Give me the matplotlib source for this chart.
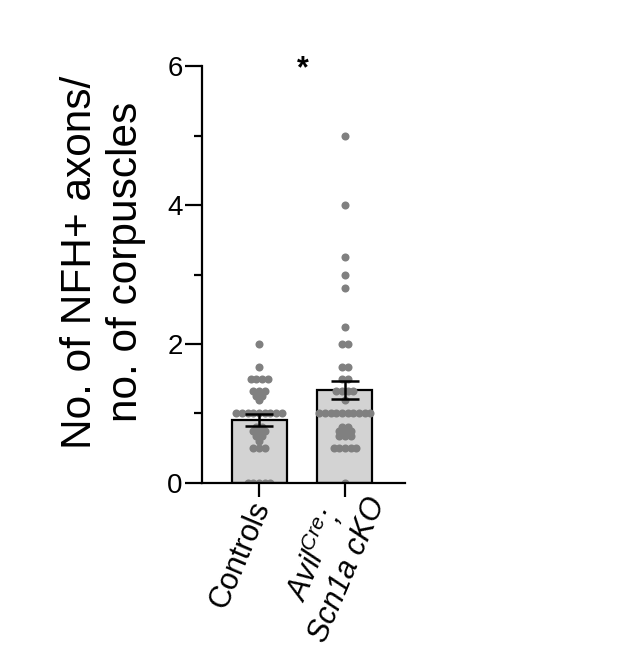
import numpy as np
import matplotlib
matplotlib.use("Agg")
import matplotlib.pyplot as plt
from matplotlib.transforms import ScaledTranslation

plt.rcParams['font.family'] = ['Liberation Sans', 'DejaVu Sans']
plt.rcParams['mathtext.fontset'] = 'custom'
plt.rcParams['mathtext.rm'] = 'Liberation Sans'
plt.rcParams['mathtext.it'] = 'Liberation Sans:italic'

# values
groups = ['Controls', 'Avil$^{Cre}$;\nScn1a cKO']
controls = [2.0, 1.67, 1.5, 1.5, 1.5, 1.5, 1.33, 1.33, 1.33, 1.25, 1.25, 1.2,
            1.0, 1.0, 1.0, 1.0, 1.0, 1.0, 1.0, 1.0, 1.0,
            0.8, 0.8, 0.75, 0.75, 0.75, 0.67, 0.67, 0.6, 0.5, 0.5, 0.5,
            0, 0, 0, 0, 0]
cko = [5.0, 4.0, 3.25, 3.0, 2.8, 2.25, 2.0, 2.0, 1.67, 1.67, 1.5, 1.5,
       1.33, 1.33, 1.33, 1.33, 1.2,
       1.0, 1.0, 1.0, 1.0, 1.0, 1.0, 1.0, 1.0, 1.0, 1.0,
       0.8, 0.8, 0.75, 0.75, 0.75, 0.67, 0.67, 0.67, 0.5, 0.5, 0.5, 0.5, 0.5,
       0]
means = [0.91, 1.34]
sems = [0.085, 0.125]
yticks = [0, 2, 4, 6]


def spread(vals, center, step):
    # lay equal values side by side, centred on the bar
    vals = np.asarray(vals, dtype=float)
    x = np.zeros_like(vals)
    for v in np.unique(vals):
        idx = np.where(vals == v)[0]
        n = len(idx)
        x[idx] = center + (np.arange(n) - (n - 1) / 2) * step
    return x


fig = plt.figure(figsize=(6.22, 6.68), dpi=100)
ax = fig.add_axes([0.325, 0.277, 0.326, 0.624])
ax.set_xlim(-0.663, 1.70)
ax.set_ylim(0, 6)

pos = np.arange(len(groups))
ax.bar(pos, means, width=0.64, color='#d3d3d3', edgecolor='black',
       linewidth=1.6, zorder=1)

step = 0.066
for p, vals in zip(pos, [controls, cko]):
    ax.scatter(spread(vals, p, step), vals, s=5.8 ** 2, color='#808080',
               linewidths=0, zorder=2)

ax.errorbar(pos, means, yerr=sems, fmt='none', ecolor='black',
            elinewidth=1.8, capsize=10, capthick=1.8, zorder=3)

ax.spines['top'].set_visible(False)
ax.spines['right'].set_visible(False)
ax.spines['left'].set_linewidth(1.6)
ax.spines['bottom'].set_linewidth(1.6)

ax.set_yticks(yticks)
ax.set_yticks([1, 3, 5], minor=True)
ax.tick_params(axis='y', which='major', length=12, width=1.6, labelsize=20, pad=2)
ax.tick_params(axis='y', which='minor', length=6, width=1.6)
ax.tick_params(axis='x', length=10, width=1.6, pad=3)
ax.set_xticks(pos)
ax.set_xticklabels(groups, fontsize=22, rotation=67, ha='right',
                   va='center_baseline', rotation_mode='anchor',
                   multialignment='center')
lab = ax.xaxis.get_major_ticks()[1].label1
lab.set_fontstyle('italic')
lab.set_transform(lab.get_transform() +
                  ScaledTranslation(0.09, 0.12, fig.dpi_scale_trans))

ax.set_ylabel('No. of NFH+ axons/\nno. of corpuscles', fontsize=30.5, va='center')
ax.yaxis.set_label_coords(-0.49, 0.53)

ax.text(0.51, 5.95, '*', fontsize=22, fontweight='bold', ha='center', va='center')

fig.savefig('out.png', dpi=100)
